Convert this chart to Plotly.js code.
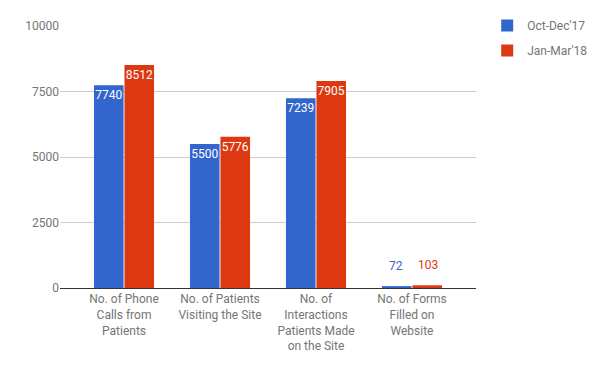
<!DOCTYPE html>
<html><head><meta charset="utf-8">
<script src="https://cdn.plot.ly/plotly-3.0.1.min.js"></script>
<style>body{margin:0;padding:0;background:#fff}#chart{width:600px;height:373px}</style>
</head><body><div id="chart"></div>
<script>
var categories = ["No. of Phone<br>Calls from<br>Patients", "No. of Patients<br>Visiting the Site", "No. of<br>Interactions<br>Patients Made<br>on the Site", "No. of Forms<br>Filled on<br>Website"];
var seriesNames = ["Oct-Dec'17", "Jan-Mar'18"];
var octDec = [7740, 5500, 7239, 72];
var janMar = [8512, 5776, 7905, 103];
var tickVals = [0, 2500, 5000, 7500, 10000];
var colors = ["#3366cc", "#dc3912"];

function mk(name, vals, color, group) {
  return {
    type: 'bar', name: name, x: categories, y: vals,
    text: vals.map(function(v){ return v > 1000 ? String(v) : ''; }), textposition: 'inside', insidetextanchor: 'end',
    textangle: 0, constraintext: 'none', cliponaxis: false,
    insidetextfont: {color: '#ffffff', size: 12, family: 'Roboto'},
    marker: {color: color}, legendgroup: group,
    hoverinfo: 'none'
  };
}
var data = [mk(seriesNames[0], octDec, colors[0], 'a'), mk(seriesNames[1], janMar, colors[1], 'b')];
var annotations = [];
[octDec, janMar].forEach(function(vals, s){
  vals.forEach(function(v, i){
    if (v <= 1000) annotations.push({x: categories[i], y: v, xref: 'x', yref: 'y', text: String(v), showarrow: false,
      xshift: s === 0 ? -16 : 16, yshift: 20, font: {size: 12, color: colors[s], family: 'Roboto'}});
  });
});
var layout = {
  width: 600, height: 373,
  margin: {l: 60, r: 124, t: 26, b: 85},
  paper_bgcolor: '#fff', plot_bgcolor: '#fff',
  font: {family: 'Roboto', color: '#757575', size: 12},
  barmode: 'group', bargap: 0.365, bargroupgap: 0.03,
  xaxis: {type: 'category', range: [-0.667, 3.667], showline: true, linecolor: '#333', linewidth: 1,
          ticks: '', tickfont: {size: 12, color: '#757575'}, fixedrange: true},
  yaxis: {range: [0, 10000], tickvals: tickVals, ticktext: tickVals.map(String), gridcolor: '#cccccc',
          zeroline: false, showline: false, ticks: '', ticklen: 0, tickfont: {size: 12, color: '#757575'}, fixedrange: true},
  legend: {xref: 'container', yref: 'container', x: 0.812, y: 0.9705, xanchor: 'left', yanchor: 'top',
           font: {size: 12, color: '#757575'}, tracegroupgap: 6, traceorder: 'grouped'},
  annotations: annotations,
  showlegend: true
};
Plotly.newPlot('chart', data, layout, {displayModeBar: false, staticPlot: true});
</script></body></html>
